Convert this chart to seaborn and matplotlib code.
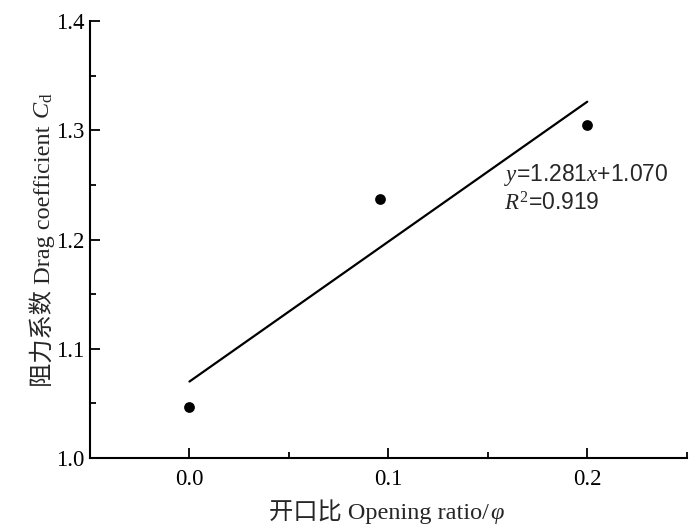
import matplotlib
matplotlib.use("Agg")
import matplotlib.pyplot as plt
import seaborn as sns
import numpy as np
import pandas as pd
from matplotlib.ticker import MultipleLocator

# data
opening_ratio = [0.0, 0.096, 0.2]
drag_coef = [1.047, 1.237, 1.305]
fit_slope = 1.281
fit_intercept = 1.070
fit_r2 = 0.919
fit_x = [0.0, 0.2]
x_ticks = [0.0, 0.1, 0.2]
y_ticks = [1.0, 1.1, 1.2, 1.3, 1.4]

sns.set_theme(style="ticks")
plt.rcParams['font.family'] = ['Liberation Serif', 'Noto Sans CJK SC', 'DejaVu Sans']
plt.rcParams['mathtext.fontset'] = 'custom'
plt.rcParams['mathtext.rm'] = 'Liberation Serif'
plt.rcParams['mathtext.it'] = 'Liberation Serif:italic'

fig = plt.figure(figsize=(7, 5.28), dpi=100)
ax = fig.add_axes([0.1286, 0.1326, 0.8524, 0.8274])

df = pd.DataFrame({"x": opening_ratio, "y": drag_coef})
sns.scatterplot(data=df, x="x", y="y", ax=ax, color="black", s=60,
                edgecolor="black", linewidth=0, zorder=3)
fit_df = pd.DataFrame({"x": fit_x,
                       "y": [fit_slope * v + fit_intercept for v in fit_x]})
sns.lineplot(data=fit_df, x="x", y="y", ax=ax, color="black", linewidth=1.6)

ax.set_xlim(-0.05, 0.25)
ax.set_ylim(1.0, 1.4)
ax.set_xticks(x_ticks)
ax.set_xticklabels([f"{v:.1f}" for v in x_ticks])
ax.set_yticks(y_ticks)
ax.set_yticklabels([f"{v:.1f}" for v in y_ticks])
ax.xaxis.set_minor_locator(MultipleLocator(0.05))
ax.yaxis.set_minor_locator(MultipleLocator(0.05))
ax.tick_params(axis='both', which='major', direction='in', length=7.5, width=1.3,
               labelsize=16.5, color='black', labelcolor='black')
ax.tick_params(axis='both', which='minor', direction='in', length=4, width=1.3,
               color='black')
ax.tick_params(axis='x', which='major', pad=8)
ax.tick_params(axis='y', which='major', pad=4)
ax.set_xlabel("")
ax.set_ylabel("")

for s in ['top', 'right']:
    ax.spines[s].set_visible(False)
for s in ['left', 'bottom']:
    ax.spines[s].set_linewidth(1.5)
    ax.spines[s].set_color('black')

ax.text(0.158, 1.259, f"$\\mathit{{y}}$={fit_slope:.3f}$\\mathit{{x}}$+{fit_intercept:.3f}",
        fontsize=16.5, va='center', ha='left', family=['Liberation Sans'])
ax.text(0.158, 1.233, f"$\\mathit{{R}}^2$={fit_r2:.3f}",
        fontsize=16.5, va='center', ha='left', family=['Liberation Sans'])

# composite axis labels (CJK text + math part)
renderer = fig.canvas.get_renderer()
W, H = fig.bbox.width, fig.bbox.height

# x label
xl1 = fig.text(0, 0, "开口比 Opening ratio/", fontsize=17.5, ha='left', va='baseline')
xl2 = fig.text(0, 0, "$\\mathit{\\varphi}$", fontsize=17.5, ha='left', va='baseline')
w1 = xl1.get_window_extent(renderer).width
w2 = xl2.get_window_extent(renderer).width
cx = (268 + 505) / 2.0
x0 = cx - (w1 + w2) / 2.0
base_y = (528 - 519) / H
xl1.set_position((x0 / W, base_y))
xl2.set_position(((x0 + w1 + 1) / W, base_y))

# y label
yl1 = fig.text(0, 0, "阻力系数 Drag coefficient ", fontsize=17.5, ha='left', va='baseline',
               rotation=90, rotation_mode='anchor')
yl2 = fig.text(0, 0, "$\\mathit{C}_\\mathregular{d}$", fontsize=17.5, ha='left', va='baseline',
               rotation=90, rotation_mode='anchor')
h1 = yl1.get_window_extent(renderer).height
h2 = yl2.get_window_extent(renderer).height
cy = 528 - (21 + 458) / 2.0
y0 = cy - (h1 + h2) / 2.0
base_x = 50 / W
yl1.set_position((base_x, y0 / H))
yl2.set_position((base_x, (y0 + h1) / H))

fig.savefig("out.png", dpi=100)
